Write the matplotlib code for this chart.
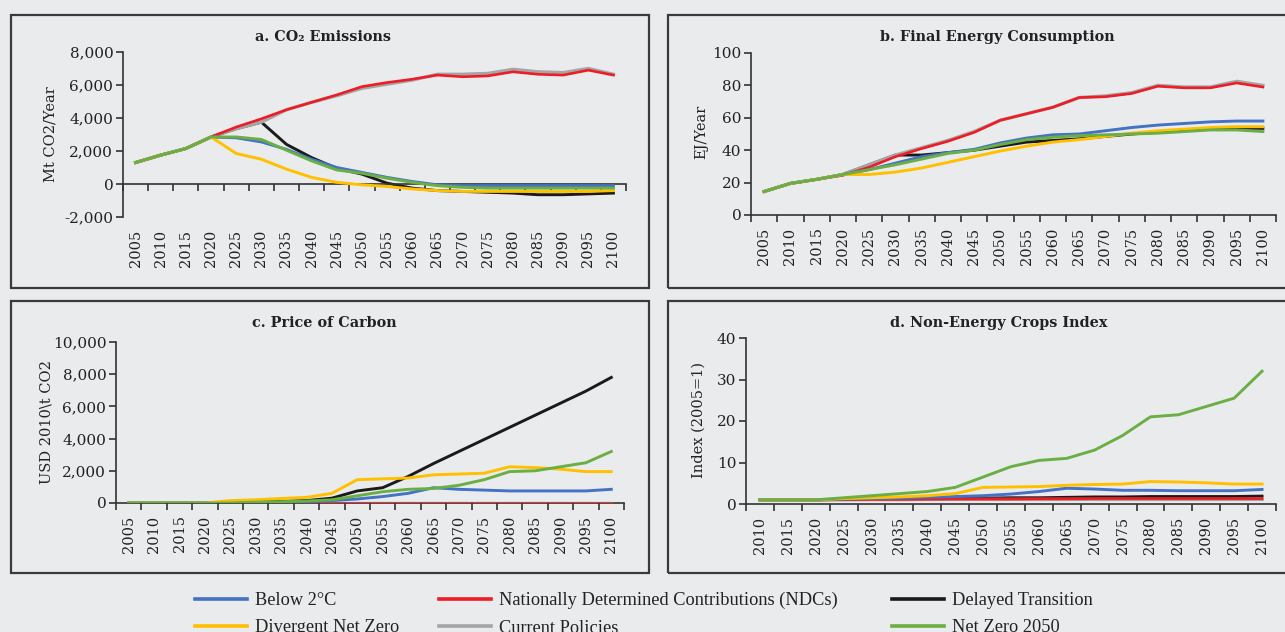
import numpy as np
import matplotlib
matplotlib.use("Agg")
import matplotlib.pyplot as plt
from matplotlib.lines import Line2D
from matplotlib.patches import Rectangle
from matplotlib.ticker import FuncFormatter

# ---------------- data ----------------
years_a = ["2005", "2010", "2015", "2020", "2025", "2030", "2035", "2040", "2045", "2050",
           "2055", "2060", "2065", "2070", "2075", "2080", "2085", "2090", "2095", "2100"]
years_d = ["2010", "2015", "2020", "2025", "2030", "2035", "2040", "2045", "2050",
           "2055", "2060", "2065", "2070", "2075", "2080", "2085", "2090", "2095", "2100"]

series_names = ["Below 2°C", "Nationally Determined Contributions (NDCs)", "Delayed Transition",
                "Divergent Net Zero", "Current Policies", "Net Zero 2050"]

# a. CO2 emissions (Mt CO2/year)
co2_below2 = [1300, 1750, 2150, 2850, 2800, 2550, 2100, 1500, 1000, 700, 400, 150, -50, -100, -100, -100, -100, -100, -100, -100]
co2_ndc = [1300, 1750, 2150, 2850, 3450, 3950, 4500, 4950, 5400, 5900, 6150, 6350, 6600, 6500, 6550, 6800, 6650, 6600, 6900, 6600]
co2_delayed = [1300, 1750, 2150, 2850, 3350, 3750, 2400, 1600, 950, 600, 50, -250, -400, -450, -500, -550, -650, -650, -600, -550]
co2_divergent = [1300, 1750, 2150, 2850, 1850, 1500, 900, 400, 100, -50, -150, -300, -400, -450, -450, -450, -450, -450, -450, -400]
co2_current = [1300, 1750, 2150, 2850, 3350, 3750, 4500, 4950, 5350, 5800, 6050, 6300, 6650, 6650, 6700, 6950, 6800, 6750, 7000, 6650]
co2_nz2050 = [1300, 1750, 2150, 2850, 2850, 2700, 2050, 1400, 850, 650, 350, 100, -100, -200, -250, -250, -250, -250, -250, -250]

# b. Final energy consumption (EJ/year)
fe_below2 = [14.5, 19.5, 22, 25, 28, 32, 36, 38.5, 40.5, 44.5, 47.5, 49.5, 50, 52, 54, 55.5, 56.5, 57.5, 58, 58]
fe_ndc = [14.5, 19.5, 22, 24.5, 29.5, 36, 41, 45.5, 51, 58.5, 62.5, 66.5, 72.5, 73, 75, 79.5, 78.5, 78.5, 81.5, 79]
fe_delayed = [14.5, 19.5, 22, 25, 31, 37, 37, 38.5, 40, 42.5, 45, 46, 47, 48.5, 50, 51, 52, 53, 53.5, 53.5]
fe_divergent = [14.5, 19.5, 22, 25, 25, 26.5, 29, 32.5, 36, 39.5, 42.5, 45, 46.5, 48.5, 50.5, 52, 53, 54, 54.5, 54.5]
fe_current = [14.5, 19.5, 22, 25, 31, 37, 41.5, 46, 51.5, 58.5, 62.5, 66.5, 72.5, 73.5, 75.5, 80, 79, 79, 82.5, 80]
fe_nz2050 = [14.5, 19.5, 22, 25, 28, 31, 34.5, 38, 40, 43.5, 46.5, 48, 49, 49.5, 50, 50.5, 51.5, 52.5, 52.5, 51.5]

# c. Price of carbon (USD 2010/t CO2)
cp_below2 = [0, 0, 0, 0, 0, 0, 50, 100, 150, 250, 400, 600, 950, 850, 800, 750, 750, 750, 750, 850]
cp_ndc = [0, 0, 0, 0, 0, 0, 0, 0, 0, 0, 0, 0, 0, 0, 0, 0, 0, 0, 0, 0]
cp_delayed = [0, 0, 0, 0, 0, 50, 100, 150, 300, 750, 950, 1650, 2450, 3200, 3950, 4700, 5450, 6200, 6950, 7800]
cp_divergent = [0, 0, 0, 0, 150, 200, 280, 350, 600, 1450, 1500, 1550, 1750, 1800, 1850, 2250, 2200, 2100, 1950, 1950]
cp_current = [0, 0, 0, 0, 0, 0, 0, 0, 0, 0, 0, 0, 0, 0, 0, 0, 0, 0, 0, 0]
cp_nz2050 = [0, 0, 0, 0, 0, 50, 80, 120, 200, 450, 700, 850, 900, 1100, 1450, 1950, 2000, 2250, 2500, 3200]

# d. Non-energy crops index (2005=1)
ci_below2 = [1, 1, 1, 1.2, 1.3, 1.4, 1.6, 1.8, 2.0, 2.4, 3.0, 3.8, 3.6, 3.3, 3.3, 3.2, 3.2, 3.2, 3.5]
ci_ndc = [1, 1, 1, 1.05, 1.1, 1.1, 1.15, 1.2, 1.2, 1.2, 1.25, 1.25, 1.3, 1.3, 1.3, 1.3, 1.3, 1.3, 1.3]
ci_delayed = [1, 1, 1, 1.1, 1.2, 1.3, 1.3, 1.4, 1.4, 1.5, 1.5, 1.6, 1.7, 1.7, 1.8, 1.8, 1.8, 1.8, 1.9]
ci_divergent = [1, 1, 1, 1.3, 1.5, 1.7, 2.0, 2.5, 4.0, 4.1, 4.2, 4.5, 4.7, 4.8, 5.4, 5.3, 5.1, 4.8, 4.8]
ci_current = [1, 1, 1, 1.0, 1.05, 1.05, 1.1, 1.1, 1.1, 1.1, 1.1, 1.1, 1.1, 1.1, 1.1, 1.1, 1.1, 1.1, 1.1]
ci_nz2050 = [1, 1, 1, 1.5, 2.0, 2.5, 3.0, 4.0, 6.5, 9.0, 10.5, 11.0, 13.0, 16.5, 21.0, 21.5, 23.5, 25.5, 32.0]

# ---------------- styling ----------------
BG = "#eaebed"
C_BLUE = "#4472c4"
C_RED = "#ee1c25"
C_BLACK = "#1a1a1a"
C_YELLOW = "#ffc000"
C_GREY = "#a5a5a5"
C_GREEN = "#6aaf44"
FRAME = "#3a3a3a"
TXT = "#222222"

W, H = 1285, 632
fig = plt.figure(figsize=(W / 100, H / 100), dpi=100, facecolor=BG)
SERIF = ["DejaVu Serif"]


def px(x, y):
    return x / W, 1 - y / H


def add_axes(left, top, right, bottom):
    x0, y1 = px(left, top)
    x1, y0 = px(right, bottom)
    ax = fig.add_axes([x0, y0, x1 - x0, y1 - y0])
    ax.set_facecolor("none")
    return ax


def frame(left, top, right, bottom):
    x0, y1 = px(left, top)
    x1, y0 = px(right, bottom)
    fig.patches.append(Rectangle((x0, y0), x1 - x0, y1 - y0, transform=fig.transFigure,
                                 fill=False, edgecolor=FRAME, linewidth=1.6, zorder=0))


def setup(ax, labels, ylim, yticks, fmt=None, zero_axis=False):
    n = len(labels)
    ax.set_xlim(-0.5, n - 0.5)
    ax.set_ylim(*ylim)
    ax.set_yticks(yticks)
    if fmt:
        ax.yaxis.set_major_formatter(FuncFormatter(fmt))
    for s in ["top", "right"]:
        ax.spines[s].set_visible(False)
    for s in ["left", "bottom"]:
        ax.spines[s].set_color("#333333")
        ax.spines[s].set_linewidth(1.2)
    if zero_axis:
        ax.spines["bottom"].set_position(("data", 0))
    ax.set_xticks(np.arange(n + 1) - 0.5)
    ax.tick_params(axis="x", direction="out", length=5, width=1.2, color="#333333", labelbottom=False)
    ax.tick_params(axis="y", direction="out", length=5, width=1.2, color="#333333",
                   labelsize=11, labelcolor=TXT, pad=2)
    for t in ax.get_yticklabels():
        t.set_fontfamily(SERIF)
    sec = ax.secondary_xaxis(0)
    sec.set_xticks(np.arange(n))
    sec.set_xticklabels(labels, rotation=90, fontsize=10.5, color=TXT, family=SERIF)
    sec.tick_params(length=0, pad=9)
    sec.spines["bottom"].set_visible(False)


def draw(ax, x, data):
    below, ndc, delayed, divergent, current, nz = data
    ax.plot(x, delayed, color=C_BLACK, lw=2.1, zorder=2)
    ax.plot(x, current, color=C_GREY, lw=2.4, zorder=3)
    ax.plot(x, ndc, color=C_RED, lw=1.9, zorder=4)
    ax.plot(x, below, color=C_BLUE, lw=2.1, zorder=5)
    ax.plot(x, divergent, color=C_YELLOW, lw=2.1, zorder=6)
    ax.plot(x, nz, color=C_GREEN, lw=2.1, zorder=7)


comma = lambda v, p: f"{v:,.0f}"

# frames
frame(11, 15, 649, 288)
frame(668, 15, 1290, 288)
frame(11, 301, 649, 573)
frame(668, 301, 1290, 573)

# a
axa = add_axes(123, 52, 626, 217)
xa = np.arange(len(years_a))
draw(axa, xa, [co2_below2, co2_ndc, co2_delayed, co2_divergent, co2_current, co2_nz2050])
setup(axa, years_a, (-2000, 8000), [-2000, 0, 2000, 4000, 6000, 8000], comma, zero_axis=True)

# b
axb = add_axes(751, 53, 1276, 215)
draw(axb, xa, [fe_below2, fe_ndc, fe_delayed, fe_divergent, fe_current, fe_nz2050])
setup(axb, years_a, (0, 100), [0, 20, 40, 60, 80, 100])

# c
axc = add_axes(116, 342, 624, 503)
draw(axc, xa, [cp_below2, cp_ndc, cp_delayed, cp_divergent, cp_current, cp_nz2050])
setup(axc, years_a, (0, 10000), [0, 2000, 4000, 6000, 8000, 10000], comma)

# d
axd = add_axes(746, 338, 1276, 504)
xd = np.arange(len(years_d))
draw(axd, xd, [ci_below2, ci_ndc, ci_delayed, ci_divergent, ci_current, ci_nz2050])
setup(axd, years_d, (0, 40), [0, 10, 20, 30, 40])

# titles
for (x, y, s) in [(323, 37, "a. CO₂ Emissions"), (997, 37, "b. Final Energy Consumption"),
                  (324, 323, "c. Price of Carbon"), (999, 323, "d. Non-Energy Crops Index")]:
    fx, fy = px(x, y)
    fig.text(fx, fy, s, ha="center", va="center", fontsize=10.4, fontweight="bold",
             family=SERIF, color=TXT)

# y labels
for (x, y, s) in [(50, 134, "Mt CO2/Year"), (701, 132, "EJ/Year"),
                  (46, 422, "USD 2010\\t CO2"), (699, 420, "Index (2005=1)")]:
    fx, fy = px(x, y)
    fig.text(fx, fy, s, ha="center", va="center", rotation=90, fontsize=10.5,
             family=SERIF, color=TXT)

# legend: three columns, row-wise order
colors = [C_BLUE, C_RED, C_BLACK, C_YELLOW, C_GREY, C_GREEN]
col_x = [195, 439, 892]
for c in range(3):
    idx = [c, c + 3]
    handles = [Line2D([], [], color=colors[i], lw=2.6) for i in idx]
    fx, fy = px(col_x[c], 592)
    fig.legend(handles, [series_names[i] for i in idx], loc="upper left",
               bbox_to_anchor=(fx, fy), bbox_transform=fig.transFigure, frameon=False,
               borderpad=0, borderaxespad=0, handlelength=2.85, handletextpad=0.4,
               labelspacing=0.56, prop={"family": "Liberation Serif", "size": 13.2},
               labelcolor=TXT)

fig.savefig("out.png", dpi=100, facecolor=BG)
